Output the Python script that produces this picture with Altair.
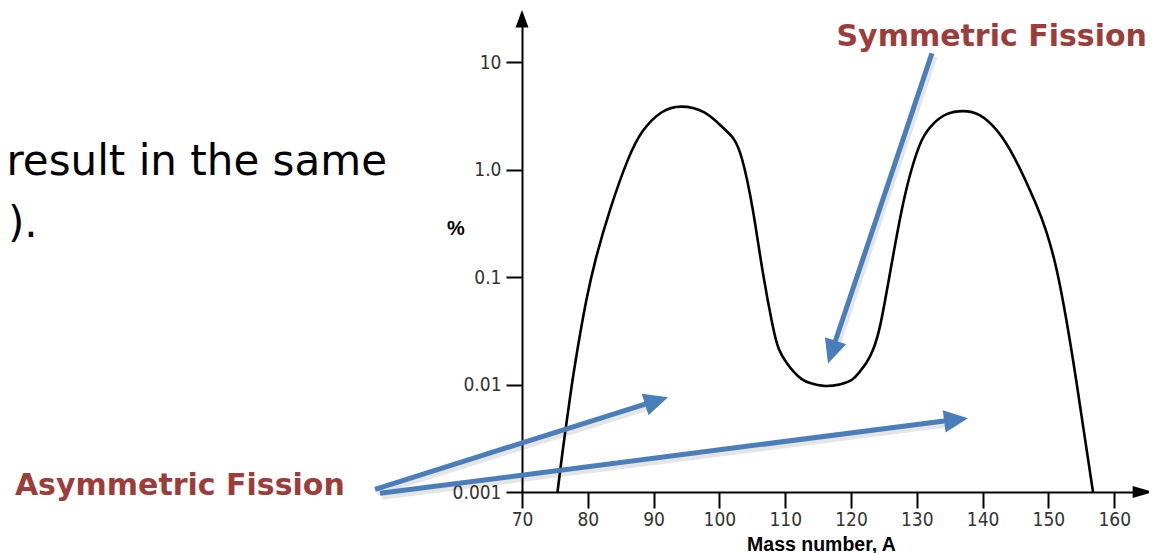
import altair as alt
import pandas as pd

# ---- fission yield curve (mass number A, yield in %) ----
mass_number = [75.4, 76.0, 76.6, 77.55, 78.66, 79.73, 81.09, 83.37, 86.15, 88.19,
               91.23, 94.01, 97.81, 100.59, 102.11, 103.39, 105.15, 106.47, 108.19, 108.95,
               110.23, 111.23, 112.51, 113.77, 115.79, 118.33, 120.35, 121.11, 122.39, 123.39,
               124.41, 126.0, 127.70, 128.97, 130.74, 132.51, 134.29, 137.07, 139.6, 142.14,
               144.67, 148.47, 149.64, 151.0, 152.52, 154.35, 155.7, 156.78]
yield_pct = [0.001, 0.002, 0.00375, 0.01, 0.026, 0.0607, 0.144, 0.4355, 1.315, 2.33,
             3.58, 3.98, 3.58, 2.41, 2.02, 1.416, 0.43, 0.116, 0.0321, 0.0209,
             0.01573, 0.01315, 0.01101, 0.01026, 0.00954, 0.00989, 0.01101, 0.0127, 0.01573, 0.0209,
             0.0321, 0.116, 0.4355, 0.922, 2.02, 2.69, 3.33, 3.58, 3.33, 2.41,
             1.415, 0.4355, 0.2735, 0.144, 0.0493, 0.01, 0.00273, 0.001]

x_ticks = [70, 80, 90, 100, 110, 120, 130, 140, 150, 160]
y_ticks = [0.001, 0.01, 0.1, 1, 10]

# ---- annotation arrows (data coordinates): start, shaft end, tip, direction ----
arrow_name = ["sym", "asym1", "asym2"]
arrow_x0 = [132.3, 47.66, 48.42]
arrow_y0 = [12.05, 0.00106, 0.000972]
arrow_x1 = [117.37, 89.57, 135.06]
arrow_y1 = [0.0228, 0.00682, 0.00465]
arrow_tip_x = [116.5, 92.19, 137.78]
arrow_tip_y = [0.0157, 0.0076, 0.00485]
arrow_angle = [198.5, 72.6, 82.7]

# ---- axis arrowheads ----
yhead_x = [70]
yhead_y = [30.5]
xhead_x = [165.9]
xhead_y = [0.001]

# ---- texts ----
label_text = ["Symmetric Fission", "Asymmetric Fission"]
label_x = [141.38, 18.0]
label_y = [14.1, 0.000938]

slide_text = ["result in the same", ")."]
slide_x = [49.48, -8.12]
slide_y = [0.889, 0.2354]
slide_align = ["right", "left"]

X_MAX = 70 + 622 / 6.58
Y_MAX = 10 ** (478 / 107.5 - 3)

xs = alt.Scale(domain=[70, X_MAX], nice=False, zero=False)
ys = alt.Scale(type="log", domain=[0.001, Y_MAX], nice=False)

curve_df = pd.DataFrame({"A": mass_number, "pct": yield_pct})
arrow_df = pd.DataFrame({"name": arrow_name, "x0": arrow_x0, "y0": arrow_y0,
                         "x1": arrow_x1, "y1": arrow_y1,
                         "tx": arrow_tip_x, "ty": arrow_tip_y, "angle": arrow_angle})
yhead_df = pd.DataFrame({"x": yhead_x, "y": yhead_y})
xhead_df = pd.DataFrame({"x": xhead_x, "y": xhead_y})
label_df = pd.DataFrame({"text": label_text, "x": label_x, "y": label_y})
slide_df = pd.DataFrame({"text": slide_text, "x": slide_x, "y": slide_y, "align": slide_align})

LABEL_FONT = "Liberation Sans Narrow, DejaVu Sans Condensed, Arial Narrow, sans-serif"

x_axis = alt.Axis(values=x_ticks, title="Mass number, A", titleX=299, titleY=52,
                  titleAlign="center", titleBaseline="middle", titleFont="Liberation Sans",
                  titleFontSize=19.5, titleFontWeight="bold", titleColor="#000000",
                  labelFont=LABEL_FONT, labelFontSize=19, labelColor="#333333",
                  labelPadding=2, labelFlush=False, labelOverlap=False,
                  tickSize=16, tickColor="#000000", tickWidth=2,
                  domainColor="#000000", domainWidth=2, grid=False)
y_axis = alt.Axis(values=y_ticks, format=".3~f", labelExpr="datum.value == 1 ? '1.0' : datum.label",
                  title="%", titleX=-66.5, titleY=214.5, titleAngle=0,
                  titleAlign="center", titleBaseline="middle", titleFont="Liberation Sans",
                  titleFontSize=20, titleFontWeight="bold", titleColor="#000000",
                  labelFont=LABEL_FONT, labelFontSize=19, labelColor="#333333",
                  labelPadding=5, labelFlush=False, labelOverlap=False,
                  tickSize=16, tickColor="#000000", tickWidth=2,
                  domainColor="#000000", domainWidth=2, grid=False)


def X(field):
    return alt.X(field, type="quantitative", scale=xs, axis=x_axis)


def Y(field):
    return alt.Y(field, type="quantitative", scale=ys, axis=y_axis)


curve = alt.Chart(curve_df).mark_line(color="#000000", strokeWidth=2.6, interpolate="basis").encode(
    x=X("A"), y=Y("pct"),
)

yhead = alt.Chart(yhead_df).mark_point(
    shape="M0,0L0.5,1.35L-0.5,1.35Z", filled=True, opacity=1, color="#000000", size=676,
    strokeWidth=0, angle=0
).encode(x=X("x"), y=Y("y"))

xhead = alt.Chart(xhead_df).mark_point(
    shape="M0,0L0.5,1.7L-0.5,1.7Z", filled=True, opacity=1, color="#000000", size=576,
    strokeWidth=0, angle=90
).encode(x=X("x"), y=Y("y"))

BLUE = "#4A7EBB"

arrow_shadow = alt.Chart(arrow_df).mark_rule(
    color="#000000", opacity=0.1, strokeWidth=7, xOffset=2, yOffset=3, x2Offset=2, y2Offset=3
).encode(x=X("x0"), y=Y("y0"), x2="x1:Q", y2="y1:Q")

arrow_shaft = alt.Chart(arrow_df).mark_rule(color=BLUE, strokeWidth=5).encode(
    x=X("x0"), y=Y("y0"), x2="x1:Q", y2="y1:Q",
)

arrow_head = alt.Chart(arrow_df).mark_point(
    shape="M0,0L0.7,1.5L-0.7,1.5Z", filled=True, opacity=1, color=BLUE, size=1024, strokeWidth=0
).encode(
    x=X("tx"), y=Y("ty"),
    angle=alt.Angle("angle:Q", scale=None),
)

labels = alt.Chart(label_df).mark_text(
    font="DejaVu Sans", fontSize=30, fontWeight="bold", color="#9B3D3B",
    align="center", baseline="alphabetic"
).encode(x=X("x"), y=Y("y"), text="text:N")

slide_right = alt.Chart(slide_df[slide_df["align"] == "right"]).mark_text(
    font="DejaVu Sans", fontSize=42, color="#000000", align="right", baseline="alphabetic"
).encode(x=X("x"), y=Y("y"), text="text:N")

slide_left = alt.Chart(slide_df[slide_df["align"] == "left"]).mark_text(
    font="DejaVu Sans", fontSize=42, color="#000000", align="left", baseline="alphabetic"
).encode(x=X("x"), y=Y("y"), text="text:N")

chart = alt.layer(
    curve, yhead, xhead, slide_right, slide_left, arrow_shadow, arrow_shaft, arrow_head, labels
).properties(
    width=622, height=478,
    autosize=alt.AutoSizeParams(type="none"),
    padding={"left": 514, "top": 6, "right": 5, "bottom": 62},
    background="#ffffff",
).configure_view(stroke=None)

chart.save("out.html", embed_options={"renderer": "svg", "actions": False})
